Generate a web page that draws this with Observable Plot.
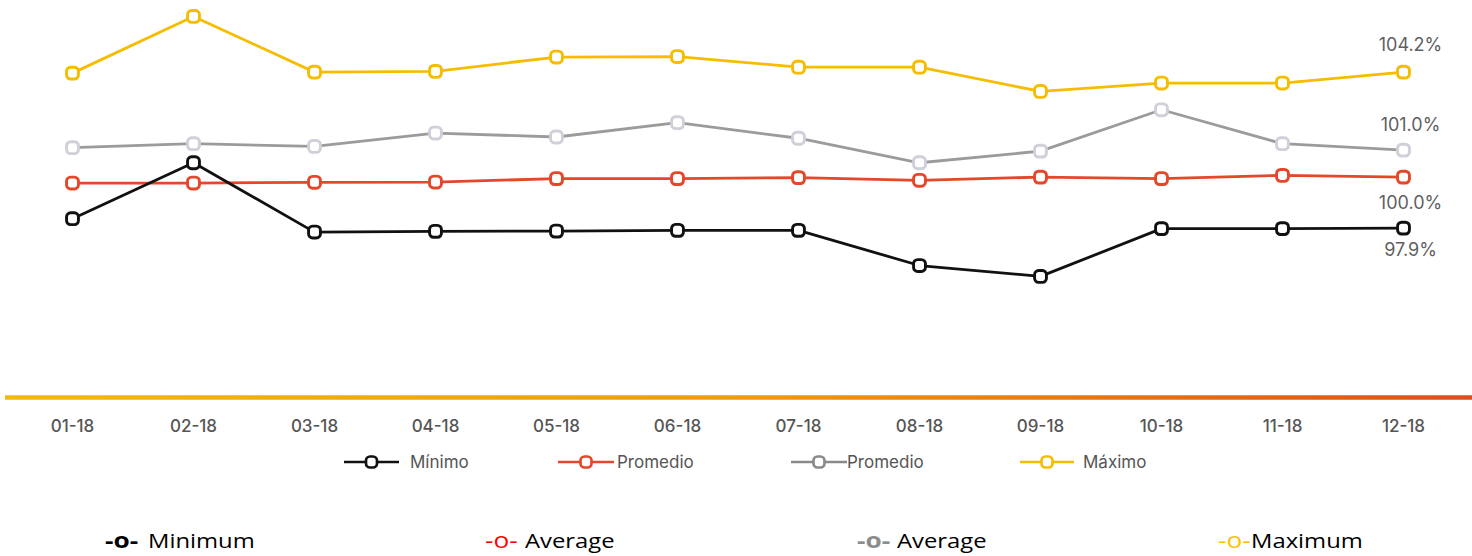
<!DOCTYPE html>
<html>
<head>
<meta charset="utf-8">
<script src="https://cdn.jsdelivr.net/npm/d3@7"></script>
<script src="https://cdn.jsdelivr.net/npm/@observablehq/plot@0.6"></script>
<style>
  html, body { margin: 0; padding: 0; background: #fff; }
  #wrap { position: relative; width: 1472px; height: 556px; overflow: hidden; background: #fff; }
  #chart { position: absolute; left: 0; top: 0; }
  .leg-svg { position: absolute; }
  .leg-txt { position: absolute; font-family: Inter, "Noto Sans", sans-serif; font-size: 17px; line-height: 17px; color: #555; white-space: nowrap; }
  .bot { position: absolute; font-family: "Open Sans", "Noto Sans", sans-serif; font-size: 20px; line-height: 20px; white-space: nowrap; transform: scaleX(1.19); transform-origin: left center; color: #000; }
  .bot.sym { font-size: 21px; transform: scaleX(1.25); }
</style>
</head>
<body>
<div id="wrap"><div id="chart"></div></div>
<script>
// ---------- data ----------
const months = ["01-18","02-18","03-18","04-18","05-18","06-18","07-18","08-18","09-18","10-18","11-18","12-18"];
const minimo       = [98.28, 100.54, 97.74, 97.77, 97.78, 97.81, 97.81, 96.39, 95.95, 97.88, 97.88, 97.90];
const promedioRojo = [99.72, 99.72, 99.75, 99.76, 99.90, 99.90, 99.94, 99.83, 99.96, 99.90, 100.03, 99.96];
const promedioGris = [101.15, 101.31, 101.20, 101.74, 101.58, 102.16, 101.53, 100.54, 101.01, 102.68, 101.31, 101.05];
const maximo       = [104.16, 106.45, 104.20, 104.23, 104.81, 104.83, 104.40, 104.40, 103.42, 103.76, 103.76, 104.20];
const seriesKeys   = ["minimo", "promedioRojo", "promedioGris", "maximo"];
const legendLabels = ["Mínimo", "Promedio", "Promedio", "Máximo"];
const bottomLabels = ["Minimum", "Average", "Average", "Maximum"];
const endLabels    = ["97.9%", "100.0%", "101.0%", "104.2%"];

// ---------- styling ----------
const seriesValues = [minimo, promedioRojo, promedioGris, maximo];
const lineColors   = ["#111111", "#e5472b", "#9b9b9b", "#f6bd00"];
const markerColors = ["#111111", "#e5472b", "#cfd0d9", "#f6bd00"];
const legendColors = ["#111111", "#e5472b", "#8a8a8a", "#f6bd00"];
const bottomColors = ["#000000", "#ff0000", "#8c8c8c", "#ffc000"];
const bottomWeights = [700, 400, 700, 400];
const labelDy      = [22, 26, -25, -27];

const rows = [];
seriesKeys.forEach((k, i) => months.forEach((m, j) => rows.push({serie: k, month: m, value: seriesValues[i][j]})));

const roundSquare = {
  draw(ctx, size) {
    const h = Math.sqrt(size) / 2, r = h * 0.68;
    ctx.moveTo(-h + r, -h);
    ctx.lineTo(h - r, -h);
    ctx.arcTo(h, -h, h, -h + r, r);
    ctx.lineTo(h, h - r);
    ctx.arcTo(h, h, h - r, h, r);
    ctx.lineTo(-h + r, h);
    ctx.arcTo(-h, h, -h, h - r, r);
    ctx.lineTo(-h, -h + r);
    ctx.arcTo(-h, -h, -h + r, -h, r);
    ctx.closePath();
  }
};

const yMin = 91.06, yMax = 107;
const marks = [];
marks.push(Plot.ruleY([yMin], {stroke: "url(#axisGrad)", strokeWidth: 4.5}));
marks.push(Plot.axisX({tickSize: 0, tickPadding: 22, fontSize: 17, fontWeight: 500, color: "#555", label: null, fontFamily: "Inter"}));
[3, 2, 1, 0].forEach(i => {
  const data = rows.filter(d => d.serie === seriesKeys[i]);
  marks.push(Plot.line(data, {x: "month", y: "value", stroke: lineColors[i], strokeWidth: 2.8}));
  marks.push(Plot.dot(data, {x: "month", y: "value", symbol: roundSquare, r: 6.7, stroke: markerColors[i], strokeWidth: 2.9, fill: "white"}));
  marks.push(Plot.text(data.filter(d => d.month === months[months.length - 1]), {
    x: "month", y: "value", text: () => endLabels[i], dx: 7, dy: labelDy[i],
    fontSize: 18, fill: "#5f5f5f", fontFamily: "Inter"
  }));
});

const chart = Plot.plot({
  width: 1472,
  height: 440,
  marginTop: 2.3,
  marginBottom: 43,
  marginLeft: 5,
  marginRight: 0,
  style: {fontFamily: "Inter, sans-serif", background: "white", overflow: "visible"},
  x: {type: "point", domain: months, range: [71, 1403], padding: 0},
  y: {domain: [yMin, yMax], axis: null},
  marks
});

// gradient for the baseline
const ns = "http://www.w3.org/2000/svg";
const defs = document.createElementNS(ns, "defs");
const lg = document.createElementNS(ns, "linearGradient");
lg.setAttribute("id", "axisGrad");
lg.setAttribute("gradientUnits", "userSpaceOnUse");
lg.setAttribute("x1", "0"); lg.setAttribute("x2", "1472");
lg.setAttribute("y1", "0"); lg.setAttribute("y2", "0");
[["0", "#f4b80f"], ["0.5", "#ec9c12"], ["1", "#d8511d"]].forEach(([o, c]) => {
  const s = document.createElementNS(ns, "stop");
  s.setAttribute("offset", o); s.setAttribute("stop-color", c);
  lg.appendChild(s);
});
defs.appendChild(lg);
chart.insertBefore(defs, chart.firstChild);
document.getElementById("chart").appendChild(chart);

// ---------- legend (middle row) ----------
const wrap = document.getElementById("wrap");
const legLineStart = [344, 558, 791, 1020];
const legLineEnd   = [399, 614, 847, 1074];
const legTextStart = [410, 617, 847, 1083];
const legCenterY = 462;
legendLabels.forEach((lab, i) => {
  const w = legLineEnd[i] - legLineStart[i];
  const svg = document.createElementNS(ns, "svg");
  svg.setAttribute("class", "leg-svg");
  svg.setAttribute("width", w); svg.setAttribute("height", 20);
  svg.style.left = legLineStart[i] + "px";
  svg.style.top = (legCenterY - 10) + "px";
  const ln = document.createElementNS(ns, "line");
  ln.setAttribute("x1", 0); ln.setAttribute("x2", w); ln.setAttribute("y1", 10); ln.setAttribute("y2", 10);
  ln.setAttribute("stroke", legendColors[i]); ln.setAttribute("stroke-width", 2.6);
  svg.appendChild(ln);
  const rc = document.createElementNS(ns, "rect");
  rc.setAttribute("x", w / 2 - 5.5); rc.setAttribute("y", 4.5);
  rc.setAttribute("width", 11); rc.setAttribute("height", 11);
  rc.setAttribute("rx", 4);
  rc.setAttribute("fill", "white"); rc.setAttribute("stroke", legendColors[i]); rc.setAttribute("stroke-width", 2.7);
  svg.appendChild(rc);
  wrap.appendChild(svg);
  const t = document.createElement("div");
  t.className = "leg-txt";
  t.textContent = lab;
  t.style.left = legTextStart[i] + "px";
  t.style.top = "453.5px";
  wrap.appendChild(t);
});

// ---------- bottom row ----------
const botSymStart  = [105, 485, 857, 1218];
const botWordStart = [148, 525, 897, 1251];
bottomLabels.forEach((lab, i) => {
  const s = document.createElement("div");
  s.className = "bot sym";
  s.textContent = "-o-";
  s.style.left = botSymStart[i] + "px";
  s.style.top = "530px";
  s.style.color = bottomColors[i];
  s.style.fontWeight = bottomWeights[i];
  wrap.appendChild(s);
  const t = document.createElement("div");
  t.className = "bot";
  t.textContent = lab;
  t.style.left = botWordStart[i] + "px";
  t.style.top = "531px";
  wrap.appendChild(t);
});
</script>
</body>
</html>
